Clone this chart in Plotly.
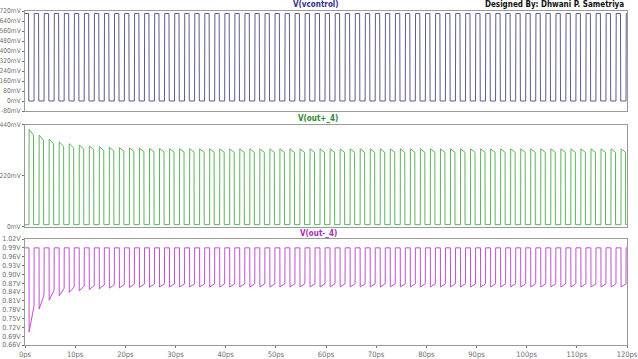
import plotly.graph_objects as go

# ---------------- data ----------------
period_ps = 2.0
n_cycles = 60

vctrl_high_mV = 700
vctrl_low_mV = 0

outp_low_mV = 8
outp_peak_mV = [419, 394, 377, 365, 357, 351, 347, 344, 342, 340,
                339, 338, 337, 337, 336, 336, 336, 335, 335, 335,
                335, 335, 335, 335, 335, 335, 335, 335, 335, 335,
                335, 335, 335, 335, 335, 335, 335, 335, 335, 335,
                335, 335, 335, 335, 335, 335, 335, 335, 335, 335,
                335, 335, 335, 335, 335, 335, 335, 335, 335, 335]
outp_end_mV = [394, 371, 356, 346, 339, 334, 331, 328, 326, 325,
               324, 323, 322, 322, 321, 321, 321, 320, 320, 320,
               320, 320, 320, 320, 320, 320, 320, 320, 320, 320,
               320, 320, 320, 320, 320, 320, 320, 320, 320, 320,
               320, 320, 320, 320, 320, 320, 320, 320, 320, 320,
               320, 320, 320, 320, 320, 320, 320, 320, 320, 320]

outm_high_V = 0.99
outm_start_V = [0.704, 0.782, 0.812, 0.827, 0.838, 0.844, 0.848, 0.851, 0.853, 0.854,
                0.855, 0.856, 0.856, 0.857, 0.857, 0.857, 0.857, 0.857, 0.857, 0.857,
                0.857, 0.857, 0.857, 0.857, 0.857, 0.857, 0.857, 0.857, 0.857, 0.857,
                0.857, 0.857, 0.857, 0.857, 0.857, 0.857, 0.857, 0.857, 0.857, 0.857,
                0.857, 0.857, 0.857, 0.857, 0.857, 0.857, 0.857, 0.857, 0.857, 0.857,
                0.857, 0.857, 0.857, 0.857, 0.857, 0.857, 0.857, 0.857, 0.857, 0.857]
outm_end_V = [0.793, 0.830, 0.846, 0.852, 0.857, 0.860, 0.862, 0.864, 0.865, 0.866,
              0.867, 0.867, 0.868, 0.868, 0.868, 0.868, 0.868, 0.868, 0.868, 0.868,
              0.868, 0.868, 0.868, 0.868, 0.868, 0.868, 0.868, 0.868, 0.868, 0.868,
              0.868, 0.868, 0.868, 0.868, 0.868, 0.868, 0.868, 0.868, 0.868, 0.868,
              0.868, 0.868, 0.868, 0.868, 0.868, 0.868, 0.868, 0.868, 0.868, 0.868,
              0.868, 0.868, 0.868, 0.868, 0.868, 0.868, 0.868, 0.868, 0.868, 0.868]

x_tick_vals = [0, 10, 20, 30, 40, 50, 60, 70, 80, 90, 100, 110, 120]
x_tick_text = ["0ps", "10ps", "20ps", "30ps", "40ps", "50ps", "60ps", "70ps",
               "80ps", "90ps", "100ps", "110ps", "120ps"]
y1_tick_vals = [720, 640, 560, 480, 400, 320, 240, 160, 80, 0, -80]
y1_tick_text = ["720mV", "640mV", "560mV", "480mV", "400mV", "320mV", "240mV",
                "160mV", "80mV", "0mV", "-80mV"]
y2_tick_vals = [440, 220, 0]
y2_tick_text = ["440mV", "220mV", "0mV"]
y3_tick_vals = [1.02, 0.99, 0.96, 0.93, 0.90, 0.87, 0.84, 0.81, 0.78, 0.75, 0.72, 0.69, 0.66]
y3_tick_text = ["1.02V", "0.99V", "0.96V", "0.93V", "0.90V", "0.87V", "0.84V", "0.81V",
                "0.78V", "0.75V", "0.72V", "0.69V", "0.66V"]

# ---------------- build waveforms from per-cycle values ----------------
t_v, y_v = [], []
t_p, y_p = [], []
t_m, y_m = [], []
for k in range(n_cycles):
    t0 = k * period_ps
    t_v += [t0, t0 + 0.7, t0 + 0.75, t0 + 1.8, t0 + 1.85]
    y_v += [vctrl_high_mV, vctrl_high_mV, vctrl_low_mV, vctrl_low_mV, vctrl_high_mV]
    t_p += [t0, t0 + 0.8, t0 + 0.82, t0 + 1.7, t0 + 1.72]
    y_p += [outp_low_mV, outp_low_mV, outp_peak_mV[k], outp_end_mV[k], outp_low_mV]
    t_m += [t0, t0 + 0.8, t0 + 0.82, t0 + 1.8, t0 + 1.82]
    y_m += [outm_high_V, outm_high_V, outm_start_V[k], outm_end_V[k], outm_high_V]
t_v.append(n_cycles * period_ps); y_v.append(vctrl_high_mV)
t_p.append(n_cycles * period_ps); y_p.append(outp_low_mV)
t_m.append(n_cycles * period_ps); y_m.append(outm_high_V)

FONT = "DejaVu Sans Condensed, Liberation Sans Narrow, Arial Narrow, sans-serif"
TICKC = "#6e6e6e"
FRAME = "#9a9a9a"

fig = go.Figure()
fig.add_trace(go.Scatter(x=t_v, y=y_v, mode="lines", line=dict(color="#5c5c90", width=1),
                         xaxis="x3", yaxis="y", showlegend=False))
fig.add_trace(go.Scatter(x=t_p, y=y_p, mode="lines", line=dict(color="#5db35d", width=1),
                         xaxis="x2", yaxis="y2", showlegend=False))
fig.add_trace(go.Scatter(x=t_m, y=y_m, mode="lines", line=dict(color="#c050d2", width=1),
                         xaxis="x", yaxis="y3", showlegend=False))

H = 359
top, bot = 11, 345
ph = bot - top
def dom(y_top_px, y_bot_px):
    return [(bot - y_bot_px) / ph, (bot - y_top_px) / ph]

common_x = dict(range=[0, 120], showline=True, linecolor=FRAME, linewidth=1, mirror=True,
                showgrid=False, zeroline=False, automargin=False)
common_y = dict(showline=True, linecolor=FRAME, linewidth=1, mirror=True, showgrid=False,
                zeroline=False, ticks="outside", ticklen=2, tickcolor=TICKC, automargin=False,
                ticklabelstandoff=0)
mv_font = dict(family=FONT, size=6.6, color=TICKC)
v_font = dict(family=FONT, size=7, color=TICKC)

fig.update_layout(
    width=638, height=359,
    margin=dict(l=25, r=11, t=top, b=H - bot),
    paper_bgcolor="white", plot_bgcolor="white",
    xaxis=dict(**common_x, anchor="y3", tickvals=x_tick_vals, ticktext=x_tick_text,
               ticks="outside", ticklen=2, tickcolor=TICKC, ticklabelstandoff=0,
               tickfont=dict(family=FONT, size=7.5, color=TICKC)),
    xaxis2=dict(**common_x, anchor="y2", showticklabels=False, matches="x"),
    xaxis3=dict(**common_x, anchor="y", showticklabels=False, matches="x"),
    yaxis=dict(**common_y, domain=dom(11, 111), range=[-80, 720], anchor="x3",
               tickvals=y1_tick_vals, ticktext=y1_tick_text, tickfont=mv_font),
    yaxis2=dict(**common_y, domain=dom(124.5, 226.5), range=[0, 440], anchor="x2",
                tickvals=y2_tick_vals, ticktext=y2_tick_text, tickfont=mv_font),
    yaxis3=dict(**common_y, domain=dom(239, 345), range=[0.66, 1.02], anchor="x",
                tickvals=y3_tick_vals, ticktext=y3_tick_text, tickfont=v_font),
)

def ann_fig(text, xpx, ypx, color, xanchor="center"):
    pw = 638 - 25 - 11
    fig.add_annotation(text=text, x=(xpx - 25) / pw, y=(bot - ypx) / ph,
                       xref="paper", yref="paper", xanchor=xanchor, yanchor="middle",
                       showarrow=False, font=dict(family=FONT, size=8, color=color))

ann_fig("<b>V(vcontrol)</b>", 316, 5, "#30308a")
ann_fig("<b>V(out+_4)</b>", 318, 118, "#2e8a2e")
ann_fig("<b>V(out-_4)</b>", 318, 233, "#a82cb8")
ann_fig("<b>Designed By: Dhwani P. Sametriya</b>", 626, 5, "#111111", xanchor="right")

fig.write_html(
    "out.html",
    config={"displayModeBar": False},
    post_script="document.body.style.margin='0px';document.body.style.overflow='hidden';"
                "document.documentElement.style.overflow='hidden';",
)
